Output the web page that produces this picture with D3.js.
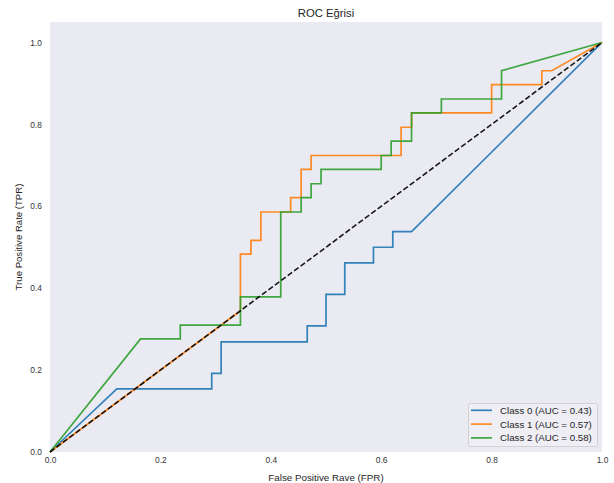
<!DOCTYPE html>
<html>
<head>
<meta charset="utf-8">
<script src="https://cdn.jsdelivr.net/npm/d3@7"></script>
<style>
  html, body { margin: 0; padding: 0; background: #ffffff; }
  svg { display: block; font-family: "Liberation Sans", Arial, sans-serif; }
</style>
</head>
<body>
<svg id="chart" width="614" height="483"></svg>
<script>
const classNames = ["Class 0", "Class 1", "Class 2"];
const aucValues = [0.43, 0.57, 0.58];
const seriesColors = ["#1f77b4", "#ff7f0e", "#2ca02c"];

const class0Fpr = [0, 0.121, 0.293, 0.293, 0.310, 0.310, 0.466, 0.466, 0.500, 0.500, 0.534, 0.534, 0.586, 0.586, 0.621, 0.621, 0.655, 1];
const class0Tpr = [0, 0.154, 0.154, 0.192, 0.192, 0.269, 0.269, 0.308, 0.308, 0.385, 0.385, 0.462, 0.462, 0.500, 0.500, 0.538, 0.538, 1];

const class1Fpr = [0, 0.345, 0.345, 0.364, 0.364, 0.382, 0.382, 0.436, 0.436, 0.455, 0.455, 0.473, 0.473, 0.636, 0.636, 0.655, 0.655, 0.800, 0.800, 0.891, 0.891, 0.909, 1];
const class1Tpr = [0, 0.345, 0.483, 0.483, 0.517, 0.517, 0.586, 0.586, 0.621, 0.621, 0.690, 0.690, 0.724, 0.724, 0.793, 0.793, 0.828, 0.828, 0.897, 0.897, 0.931, 0.931, 1];

const class2Fpr = [0, 0.164, 0.236, 0.236, 0.345, 0.345, 0.418, 0.418, 0.455, 0.455, 0.473, 0.473, 0.491, 0.491, 0.600, 0.600, 0.618, 0.618, 0.655, 0.655, 0.709, 0.709, 0.818, 0.818, 1];
const class2Tpr = [0, 0.276, 0.276, 0.310, 0.310, 0.379, 0.379, 0.586, 0.586, 0.621, 0.621, 0.655, 0.655, 0.690, 0.690, 0.724, 0.724, 0.759, 0.759, 0.828, 0.828, 0.862, 0.862, 0.931, 1];

const diagonal = [0, 1];
const xTicks = [0, 0.2, 0.4, 0.6, 0.8, 1.0];
const yTicks = [0, 0.2, 0.4, 0.6, 0.8, 1.0];

const titleText = "ROC Eğrisi";
const xLabelText = "False Positive Rave (FPR)";
const yLabelText = "True Positive Rate (TPR)";

const fprs = [class0Fpr, class1Fpr, class2Fpr];
const tprs = [class0Tpr, class1Tpr, class2Tpr];

const svg = d3.select("#chart");
const plotLeft = 50, plotRight = 602, plotTop = 22, plotBottom = 452;

const x = d3.scaleLinear().domain([0, 1]).range([plotLeft, plotRight]);
const y = d3.scaleLinear().domain([0, 1.05]).range([plotBottom, plotTop]);

svg.append("rect")
  .attr("x", plotLeft).attr("y", plotTop)
  .attr("width", plotRight - plotLeft).attr("height", plotBottom - plotTop)
  .attr("fill", "#eaeaf2");

const line = d3.line().x(d => x(d[0])).y(d => y(d[1]));

fprs.forEach((f, i) => {
  const pts = f.map((v, j) => [v, tprs[i][j]]);
  svg.append("path")
    .datum(pts)
    .attr("d", line)
    .attr("fill", "none")
    .attr("stroke", seriesColors[i])
    .attr("stroke-width", 1.7)
    .attr("stroke-opacity", 0.9)
    .attr("stroke-linejoin", "miter");
});

svg.append("path")
  .datum(diagonal.map(v => [v, v]))
  .attr("d", line)
  .attr("fill", "none")
  .attr("stroke", "#000000")
  .attr("stroke-width", 1.6)
  .attr("stroke-opacity", 0.9)
  .attr("stroke-dasharray", "5.5,2.5");

// axes
const xAxis = svg.append("g")
  .attr("transform", `translate(0,${plotBottom})`)
  .call(d3.axisBottom(x).tickValues(xTicks).tickFormat(d3.format(".1f")).tickSize(0).tickPadding(5));
xAxis.select(".domain").remove();
xAxis.selectAll("text").attr("font-size", 8.4).attr("fill", "#333333").attr("font-family", "Liberation Sans, Arial, sans-serif");

const yAxis = svg.append("g")
  .attr("transform", `translate(${plotLeft},0)`)
  .call(d3.axisLeft(y).tickValues(yTicks).tickFormat(d3.format(".1f")).tickSize(0).tickPadding(8));
yAxis.select(".domain").remove();
yAxis.selectAll("text").attr("font-size", 8.4).attr("fill", "#333333").attr("font-family", "Liberation Sans, Arial, sans-serif");

// title & labels
svg.append("text")
  .attr("x", (plotLeft + plotRight) / 2).attr("y", 17)
  .attr("text-anchor", "middle")
  .attr("font-size", 11.3).attr("fill", "#262626")
  .text(titleText);

svg.append("text")
  .attr("x", (plotLeft + plotRight) / 2).attr("y", 480.5)
  .attr("text-anchor", "middle")
  .attr("font-size", 9.8).attr("fill", "#262626")
  .text(xLabelText);

svg.append("text")
  .attr("transform", `translate(21.5,${(plotTop + plotBottom) / 2}) rotate(-90)`)
  .attr("text-anchor", "middle")
  .attr("font-size", 9.6).attr("fill", "#262626")
  .text(yLabelText);

// legend
const lg = svg.append("g");
lg.append("rect")
  .attr("x", 468.5).attr("y", 403.5)
  .attr("width", 129).attr("height", 43)
  .attr("rx", 2)
  .attr("fill", "#eeeef4")
  .attr("stroke", "#cccccc")
  .attr("stroke-width", 0.8);

classNames.forEach((name, i) => {
  const yy = 410.3 + i * 13.8;
  lg.append("line")
    .attr("x1", 471).attr("x2", 492)
    .attr("y1", yy).attr("y2", yy)
    .attr("stroke", seriesColors[i]).attr("stroke-width", 1.7).attr("stroke-opacity", 0.9);
  lg.append("text")
    .attr("x", 500).attr("y", yy + 3.4)
    .attr("font-size", 9.7).attr("fill", "#262626")
    .text(`${name} (AUC = ${aucValues[i].toFixed(2)})`);
});
</script>
</body>
</html>
